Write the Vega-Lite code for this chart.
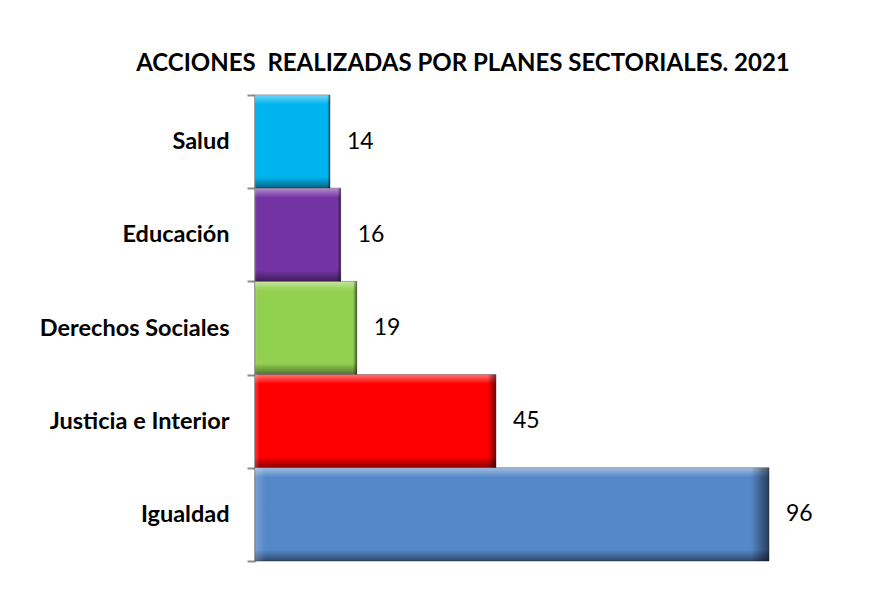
{
  "$schema": "https://vega.github.io/schema/vega-lite/v6.json",
  "autosize": {"type": "none"},
  "padding": {"left": 255, "top": 95, "right": 121, "bottom": 31},
  "width": 514,
  "height": 466,
  "background": "white",
  "config": {"view": {"stroke": null}, "font": "Lato"},
  "title": {
    "text": "ACCIONES\u00a0 REALIZADAS POR PLANES SECTORIALES. 2021",
    "font": "Lato",
    "fontSize": 24,
    "fontWeight": "bold",
    "color": "#000000",
    "anchor": "middle",
    "frame": "group",
    "dx": -49,
    "offset": 7
  },
  "data": {
    "values": [
      {"plan": "Salud", "acciones": 14},
      {"plan": "Educación", "acciones": 16},
      {"plan": "Derechos Sociales", "acciones": 19},
      {"plan": "Justicia e Interior", "acciones": 45},
      {"plan": "Igualdad", "acciones": 96}
    ]
  },
  "encoding": {
    "y": {
      "field": "plan",
      "type": "nominal",
      "sort": null,
      "scale": {"paddingInner": 0, "paddingOuter": 0},
      "axis": {
        "title": null,
        "tickBand": "extent",
        "domainColor": "#8c8c8c",
        "domainWidth": 2,
        "tickColor": "#8c8c8c",
        "tickWidth": 2,
        "tickSize": 8,
        "labelPadding": 18,
        "labelLimit": 300,
        "labelFont": "Lato",
        "labelFontSize": 23.5,
        "labelFontWeight": "bold",
        "labelColor": "#000000"
      }
    },
    "x": {
      "field": "acciones",
      "type": "quantitative",
      "scale": {"domain": [0, 96], "nice": false},
      "axis": null
    }
  },
  "layer": [
    {
      "mark": {"type": "bar", "stroke": "#3a3a3a", "strokeWidth": 1, "strokeOpacity": 0.5},
      "encoding": {
        "color": {
          "field": "plan",
          "type": "nominal",
          "legend": null,
          "scale": {
            "domain": ["Salud", "Educación", "Derechos Sociales", "Justicia e Interior", "Igualdad"],
            "range": ["#00B4F0", "#7433A3", "#92D050", "#FF0000", "#5588C9"]
          }
        }
      }
    },
    {
      "mark": {
        "type": "bar",
        "fill": {
          "gradient": "linear",
          "x1": 0, "y1": 0, "x2": 0, "y2": 1,
          "stops": [
            {"offset": 0, "color": "rgba(255,255,255,0.45)"},
            {"offset": 0.1, "color": "rgba(255,255,255,0.0)"},
            {"offset": 0.88, "color": "rgba(0,0,0,0.0)"},
            {"offset": 1, "color": "rgba(0,0,0,0.45)"}
          ]
        }
      },
      "encoding": {}
    },
    {
      "mark": {
        "type": "bar",
        "fill": {
          "gradient": "linear",
          "x1": 0, "y1": 0, "x2": 1, "y2": 0,
          "stops": [
            {"offset": 0, "color": "rgba(255,255,255,0.2)"},
            {"offset": 0.02, "color": "rgba(255,255,255,0.0)"},
            {"offset": 0.965, "color": "rgba(0,0,0,0.0)"},
            {"offset": 1, "color": "rgba(0,0,0,0.55)"}
          ]
        }
      },
      "encoding": {}
    },
    {
      "mark": {"type": "text", "align": "left", "baseline": "middle", "dx": 17, "font": "Lato", "fontSize": 23, "color": "#000000"},
      "encoding": {"text": {"field": "acciones", "type": "quantitative"}}
    }
  ]
}
